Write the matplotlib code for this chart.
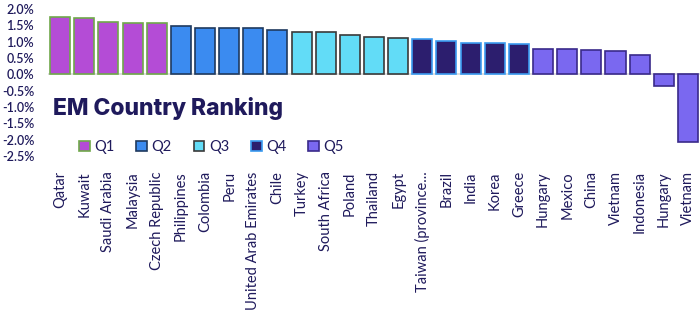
import numpy as np
import matplotlib.pyplot as plt
from matplotlib.patches import Patch

countries = ['Qatar', 'Kuwait', 'Saudi Arabia', 'Malaysia', 'Czech Republic',
             'Philippines', 'Colombia', 'Peru', 'United Arab Emirates', 'Chile',
             'Turkey', 'South Africa', 'Poland', 'Thailand', 'Egypt',
             'Taiwan (province...', 'Brazil', 'India', 'Korea', 'Greece',
             'Hungary', 'Mexico', 'China', 'Vietnam', 'Indonesia',
             'Hungary', 'Vietnam']
values = [1.75, 1.72, 1.61, 1.56, 1.56,
          1.49, 1.42, 1.41, 1.41, 1.35,
          1.30, 1.29, 1.21, 1.14, 1.12,
          1.08, 1.02, 0.96, 0.96, 0.93,
          0.79, 0.78, 0.73, 0.70, 0.58,
          -0.37, -2.07]
quintile = [1] * 5 + [2] * 5 + [3] * 5 + [4] * 5 + [5] * 7
yticks = [2.0, 1.5, 1.0, 0.5, 0.0, -0.5, -1.0, -1.5, -2.0, -2.5]

face = {1: '#B44CD6', 2: '#3B8BF0', 3: '#62DCF7', 4: '#2C1E6E', 5: '#7A68F0'}
edge = {1: '#6FA84A', 2: '#1F3A5F', 3: '#3A3A3A', 4: '#3B9BF0', 5: '#3A2A8A'}
navy = '#1F1A5C'

plt.rcParams['font.family'] = ['Lato', 'DejaVu Sans']

fig = plt.figure(figsize=(7, 3.17), dpi=100)
ax = fig.add_axes([0.0686, 0.508, 0.9314, 0.4636])

x = np.arange(len(countries))
ax.bar(x, values, width=0.83,
       color=[face[q] for q in quintile],
       edgecolor=[edge[q] for q in quintile], linewidth=1.2, zorder=3)
ax.axhline(0, color='#D9D9D9', linewidth=1.2, zorder=2)

ax.set_xlim(-0.5, len(countries) - 0.5)
ax.set_ylim(-2.5, 2.0)
ax.set_yticks(yticks)
ax.set_yticklabels(['%.1f%%' % v for v in yticks], color=navy, fontsize=9,
                   fontweight='semibold')
ax.set_xticks(x)
ax.set_xticklabels(countries, rotation=90, color=navy, fontsize=10.5)
ax.tick_params(axis='both', length=0)
ax.tick_params(axis='x', pad=11)
ax.tick_params(axis='y', pad=10)
for s in ax.spines.values():
    s.set_visible(False)

fig.text(0.076, 0.659, 'EM Country Ranking', fontsize=16.5, fontweight='heavy',
         color=navy, va='center', ha='left', family=['Inter', 'Lato', 'DejaVu Sans'])

handles = [Patch(facecolor=face[q], edgecolor=edge[q], linewidth=1.2, label='Q%d' % q)
           for q in range(1, 6)]
fig.legend(handles=handles, loc='center', bbox_to_anchor=(0.302, 0.536), ncol=5,
           frameon=False, fontsize=10.5, labelcolor=navy, handlelength=0.75,
           handleheight=0.75, handletextpad=0.3, columnspacing=1.5)

fig.savefig('out.png', dpi=100)
